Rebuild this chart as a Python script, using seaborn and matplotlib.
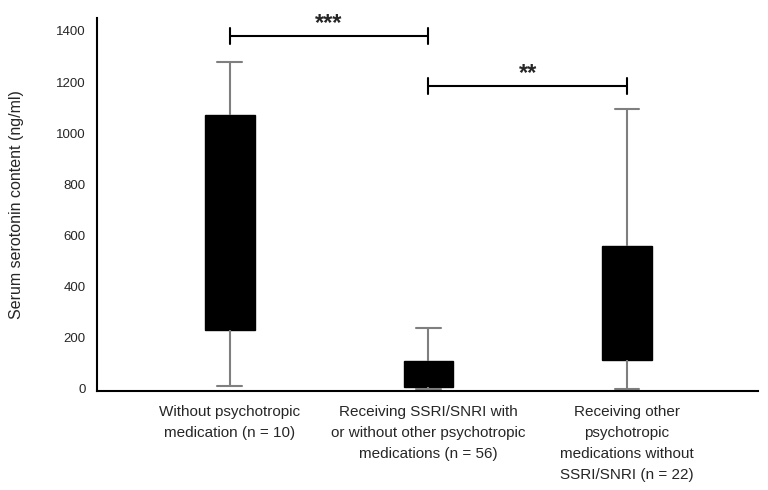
import numpy as np
import pandas as pd
import matplotlib
matplotlib.use("Agg")
import matplotlib.pyplot as plt
import seaborn as sns

# --- data: five-number summaries (ng/ml) ---
groups = [
    "Without psychotropic\nmedication (n = 10)",
    "Receiving SSRI/SNRI with\nor without other psychotropic\nmedications (n = 56)",
    "Receiving other\npsychotropic\nmedications without\nSSRI/SNRI (n = 22)",
]
mins = [10, 0, 0]
q1s = [231, 8, 113]
medians = [600, 40, 250]
q3s = [1072, 110, 559]
maxs = [1279, 238, 1095]

# significance brackets: (left group, right group, height, label)
sig_pairs = [(0, 1), (1, 2)]
sig_heights = [1380, 1185]
sig_labels = ["***", "**"]

rows = []
for g, a, b, c, d, e in zip(groups, mins, q1s, medians, q3s, maxs):
    for v in (a, b, c, d, e):
        rows.append({"group": g, "value": v})
df = pd.DataFrame(rows)

sns.set_style("white")
plt.rcParams["font.family"] = ["Liberation Sans", "DejaVu Sans"]

fig = plt.figure(figsize=(7.68, 4.9), dpi=100)
ax = fig.add_axes([0.126, 0.202, 0.861, 0.761])

sns.boxplot(
    data=df, x="group", y="value", order=groups,
    whis=(0, 100), width=0.25, ax=ax, showfliers=False,
    boxprops={"facecolor": "black", "edgecolor": "black", "linewidth": 1},
    whiskerprops={"color": "#7f7f7f", "linewidth": 1.5},
    capprops={"color": "#7f7f7f", "linewidth": 1.5},
    medianprops={"color": "black", "linewidth": 1},
)

# significance brackets
tick_h = 30
for (i, j), h, lab in zip(sig_pairs, sig_heights, sig_labels):
    ax.plot([i, j], [h, h], color="black", lw=1.5, clip_on=False)
    ax.plot([i, i], [h - tick_h, h + tick_h], color="black", lw=1.5, clip_on=False)
    ax.plot([j, j], [h - tick_h, h + tick_h], color="black", lw=1.5, clip_on=False)
    ax.text((i + j) / 2, h + 5, lab, ha="center", va="bottom",
            fontsize=17, fontweight="bold", clip_on=False)

ax.set_xlim(-0.67, 2.66)
ax.set_ylim(-8, 1450)
ax.set_yticks(range(0, 1401, 200))
ax.set_xlabel("")
ax.set_ylabel("Serum serotonin content (ng/ml)", fontsize=11.5, labelpad=23)
ax.tick_params(axis="y", length=0, labelsize=9.5, pad=8)
ax.tick_params(axis="x", length=0, labelsize=11, pad=10)
for t in ax.get_xticklabels():
    t.set_linespacing(1.65)

sns.despine(ax=ax)
for s in ("left", "bottom"):
    ax.spines[s].set_color("black")
    ax.spines[s].set_linewidth(1.5)

fig.savefig("out.png", dpi=100)
